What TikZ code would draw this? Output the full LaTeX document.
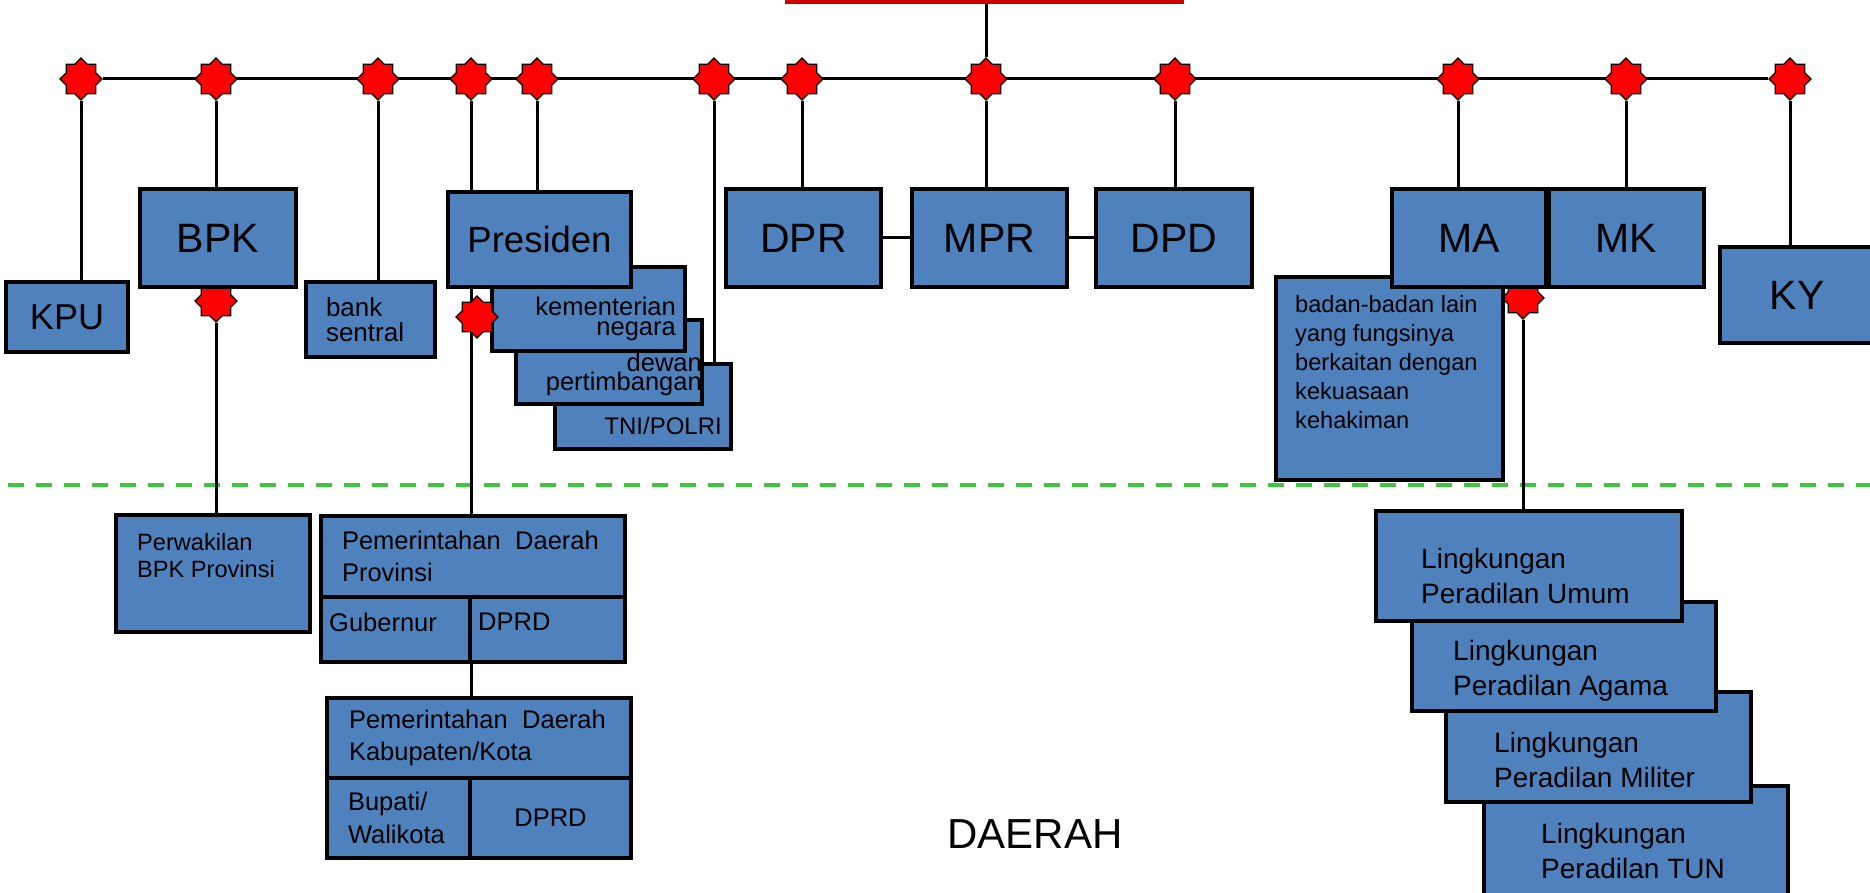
\documentclass[tikz,border=0pt]{standalone}
\usepackage{fontspec}
\setmainfont{Liberation Sans}
\usetikzlibrary{shapes.geometric,positioning,backgrounds}
\definecolor{boxblue}{RGB}{79,129,189}
\definecolor{topred}{RGB}{204,0,0}
\definecolor{sepgreen}{RGB}{60,200,60}

\begin{document}
\begin{tikzpicture}[
            x=1pt, y=-1pt,
            box/.style={draw, line width=3.4pt, fill=boxblue, inner sep=0pt, outer sep=0pt, anchor=north west, align=center},
            big/.style={font=\fontsize{41}{41}\selectfont},
            mid/.style={font=\fontsize{25.5}{32}\selectfont},
            lk/.style={font=\fontsize{28}{35}\selectfont},
            txt/.style={inner sep=0pt, align=left},
            joint/.style={star, star points=8, star point ratio=1.31, minimum size=42pt, inner sep=0pt, draw, line width=1.2pt, fill=red},
            wire/.style={line width=3pt}
  ]
  \useasboundingbox (0,0) rectangle (1870,893);

  \node[fill=topred, inner sep=0pt, outer sep=0pt, minimum width=399pt, minimum height=34pt, anchor=south west] (top) at (785,4) {};

  \node[box, font=\fontsize{36}{36}\selectfont, minimum width=122pt, minimum height=70pt] (kpu) at (6,282) {KPU};
  \node[box, big, minimum width=156pt, minimum height=98pt] (bpk) at (140,189) {BPK};
  \node[box, font=\fontsize{26}{25}\selectfont, text width=89pt, align=left, minimum width=129pt, minimum height=75pt] (bank) at (306,282) {bank\\sentral};

  \node[box, minimum width=176pt, minimum height=85pt] (tni) at (555,364) {};
  \node[txt, anchor=east, font=\fontsize{24}{24}\selectfont] (tni-t) at ([shift={(-9,62)}]tni.north east) {TNI/POLRI};
  \node[box, minimum width=186pt, minimum height=84pt] (dewan) at (516,320) {};
  \node[txt, anchor=east, align=right, font=\fontsize{25.5}{19}\selectfont] (dewan-t) at ([shift={(0,54)}]dewan.north east) {dewan\\pertimbangan};
  \node[box, minimum width=193pt, minimum height=84pt] (kem) at (492,267) {};
  \node[txt, anchor=east, align=right, font=\fontsize{25.5}{19.5}\selectfont] (kem-t) at ([shift={(-9,52)}]kem.north east) {kementerian\\negara};
  \node[box, font=\fontsize{36.5}{36}\selectfont, minimum width=183pt, minimum height=95pt] (pres) at (448,192) {Presiden};

  \node[box, big, minimum width=155pt, minimum height=98pt] (dpr) at (726,189) {DPR};
  \node[box, big, minimum width=155pt, minimum height=98pt] (mpr) at (912,189) {MPR};
  \node[box, big, minimum width=156pt, minimum height=98pt] (dpd) at (1096,189) {DPD};

  \node[box, minimum width=227pt, minimum height=203pt] (badan) at (1276,277) {};
  \node[txt, anchor=north west, font=\fontsize{23.6}{29}\selectfont] (badan-t) at ([shift={(19,18)}]badan.north west) {badan-badan lain\\yang fungsinya\\berkaitan dengan\\kekuasaan\\kehakiman};
  \node[box, big, minimum width=154pt, minimum height=98pt] (ma) at (1392,189) {MA};
  \node[box, big, minimum width=155pt, minimum height=98pt] (mk) at (1549,189) {MK};
  \node[box, big, minimum width=154pt, minimum height=96pt] (ky) at (1720,247) {KY};

  \node[box, minimum width=194pt, minimum height=117pt] (perw) at (116,515) {};
  \node[txt, anchor=north west, font=\fontsize{23.6}{27}\selectfont] (perw-t) at ([shift={(21,18)}]perw.north west) {Perwakilan\\BPK Provinsi};

  \node[box, mid, text width=262pt, align=left, minimum width=304pt, minimum height=81pt] (prov) at (321,516) {\mbox{Pemerintahan\hspace{14.5pt}Daerah}\\Provinsi};
  \node[box, minimum width=149pt, minimum height=65pt] (gub) at (prov.south west) {};
  \node[box, minimum width=155pt, minimum height=65pt] (dprdp) at (gub.north east) {};
  \node[txt, mid, anchor=west] (gub-t) at ([shift={(8,25)}]gub.north west) {Gubernur};
  \node[txt, mid, anchor=west] (dprdp-t) at ([shift={(8,25)}]dprdp.north west) {DPRD};

  \node[box, mid, text width=260pt, align=left, minimum width=304pt, minimum height=80pt] (kab) at (327,698) {\mbox{Pemerintahan\hspace{14.5pt}Daerah}\\Kabupaten/Kota};
  \node[box, font=\fontsize{25.5}{33}\selectfont, text width=101pt, align=left, minimum width=143pt, minimum height=80pt] (bup) at (kab.south west) {Bupati/\\Walikota};
  \node[box, mid, minimum width=161pt, minimum height=80pt] (dprdk) at (bup.north east) {DPRD};

  \node[box, minimum width=304pt, minimum height=130pt] (tun) at (1484,786) {};
  \node[txt, lk, anchor=north west] (tun-t) at ([shift={(57,37)}]tun.north west) {Lingkungan\\Peradilan TUN};
  \node[box, minimum width=305pt, minimum height=110pt] (mil) at (1446,692) {};
  \node[txt, lk, anchor=north west] (mil-t) at ([shift={(48,40)}]mil.north west) {Lingkungan\\Peradilan Militer};
  \node[box, minimum width=304pt, minimum height=109pt] (agama) at (1412,602) {};
  \node[txt, lk, anchor=north west] (agama-t) at ([shift={(41,38)}]agama.north west) {Lingkungan\\Peradilan Agama};
  \node[box, minimum width=306pt, minimum height=110pt] (umum) at (1376,511) {};
  \node[txt, lk, anchor=north west] (umum-t) at ([shift={(45,37)}]umum.north west) {Lingkungan\\Peradilan Umum};

  \node[font=\fontsize{42}{42}\selectfont] (daerah) at (1035,834) {DAERAH};

  \node[joint] (skpu) at (81,79) {};
  \node[joint] (sbpk) at (216,79) {};
  \node[joint] (sbank) at (378,79) {};
  \node[joint] (spresl) at (471,79) {};
  \node[joint] (spresr) at (537,79) {};
  \node[joint] (stni) at (714,79) {};
  \node[joint] (sdpr) at (802,79) {};
  \node[joint] (smpr) at (986,79) {};
  \node[joint] (sdpd) at (1175,79) {};
  \node[joint] (sma) at (1458,79) {};
  \node[joint] (smk) at (1626,79) {};
  \node[joint] (sky) at (1790,79) {};
  \node[joint] (spresb) at (477,317) {};

  \coordinate (sepl) at (8,485);
  \coordinate (sepr) at (1870,485);

  \begin{scope}[on background layer]
    \draw[line width=4pt, sepgreen, dash pattern=on 16pt off 12pt] (sepl) -- (sepr);

    \draw[wire] (skpu) -- (sky);
    \draw[wire] (top.south -| smpr) -- (smpr);

    \draw[wire] (skpu) -- (skpu |- kpu.north);
    \draw[wire] (sbpk) -- (sbpk |- bpk.north);
    \draw[wire] (sbank) -- (sbank |- bank.north);
    \draw[wire] (spresl) -- (spresl |- pres.north);
    \draw[wire] (spresr) -- (spresr |- pres.north);
    \draw[wire] (stni) -- (stni |- tni.north);
    \draw[wire] (sdpr) -- (sdpr |- dpr.north);
    \draw[wire] (smpr) -- (smpr |- mpr.north);
    \draw[wire] (sdpd) -- (sdpd |- dpd.north);
    \draw[wire] (sma) -- (sma |- ma.north);
    \draw[wire] (smk) -- (smk |- mk.north);
    \draw[wire] (sky) -- (sky |- ky.north);

    \draw[wire] (dpr) -- (mpr) -- (dpd);

    \draw[wire] (spresl |- pres.south) -- (spresl |- prov.north);
    \draw[wire] (spresl |- gub.south) -- (spresl |- kab.north);

    \node[joint] (sbpkb) at (216,301) {};
    \draw[wire] (sbpkb.south) -- (sbpkb |- perw.north);
    \node[joint] (smab) at (1523,298) {};
    \draw[wire] (smab.south) -- (smab |- umum.north);
  \end{scope}

\end{tikzpicture}
\end{document}
